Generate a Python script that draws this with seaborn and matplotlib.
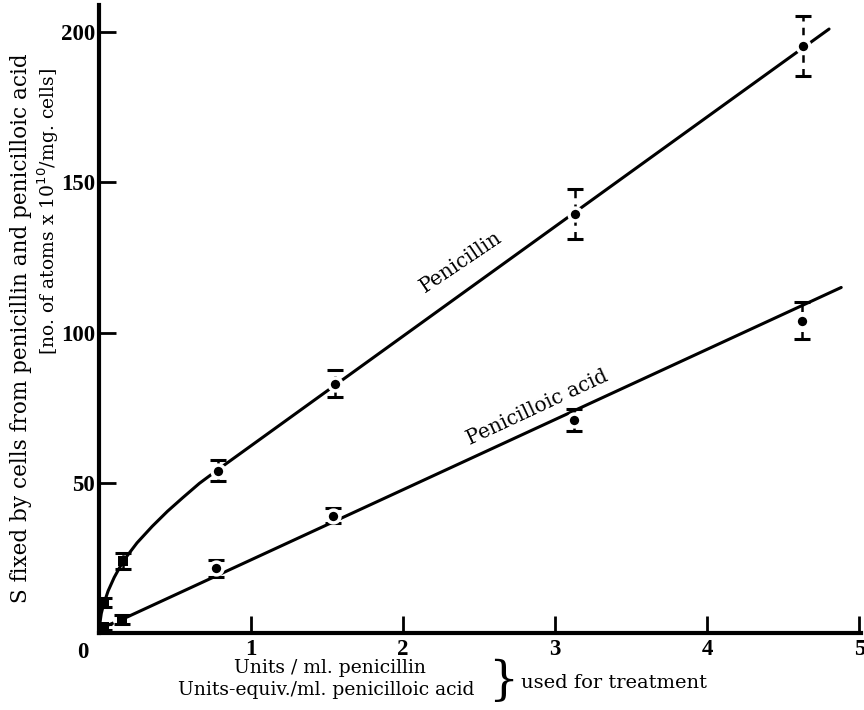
import numpy as np
import pandas as pd
import matplotlib
matplotlib.use("Agg")
import matplotlib.pyplot as plt
import seaborn as sns

# ---------- data ----------
pen_x = [0.03, 0.16, 0.78, 1.55, 3.13, 4.63]
pen_y = [10, 24, 54, 83, 139.5, 195.5]
pen_err = [1.5, 2.7, 3.5, 4.5, 8.3, 10]

acid_x = [0.03, 0.15, 0.77, 1.54, 3.12, 4.62]
acid_y = [2, 4.5, 21.5, 39, 71, 104]
acid_err = [1, 1.5, 2.7, 2.5, 3.7, 6]

# hand-drawn fitted curves
pen_curve_x = [0, 0.005, 0.015, 0.03, 0.06, 0.1, 0.16, 0.25, 0.35,
               0.45, 0.55, 0.66, 0.78, 4.8]
pen_curve_y = [0, 3, 6.5, 9.5, 14, 18.5, 24, 30, 35.5,
               40.5, 45, 49.8, 54.3, 201]
acid_dash_x = [0, 0.03, 0.15]
acid_dash_y = [0, 2, 4.5]
acid_line_x = [0.15, 4.88]
acid_line_y = [4.5, 115]

x_ticks = [1, 2, 3, 4, 5]
y_ticks = [50, 100, 150, 200]

# ---------- plot ----------
sns.set_style("ticks", rc={
    "axes.edgecolor": "black",
    "xtick.color": "black",
    "ytick.color": "black",
    "text.color": "black",
    "axes.labelcolor": "black",
})
plt.rcParams["font.family"] = ["DejaVu Serif"]

fig = plt.figure(figsize=(8.64, 7.10), dpi=100)
ax = fig.add_axes([99 / 864, 1 - 633 / 710, (861 - 99) / 864, (633 - 5) / 710])

LW = 2.2
sns.lineplot(x=pen_curve_x, y=pen_curve_y, ax=ax, color="black", lw=LW,
             sort=False, estimator=None)
sns.lineplot(x=acid_line_x, y=acid_line_y, ax=ax, color="black", lw=LW,
             sort=False, estimator=None)
sns.lineplot(x=acid_dash_x, y=acid_dash_y, ax=ax, color="black", lw=LW,
             sort=False, estimator=None, linestyle=(0, (2, 2)))

for xs, ys, es in [(pen_x, pen_y, pen_err), (acid_x, acid_y, acid_err)]:
    eb = ax.errorbar(xs, ys, yerr=es, fmt="none", ecolor="black",
                     elinewidth=1.8, capsize=6, capthick=2.2, zorder=4)
    eb[2][0].set_linestyle((0, (3, 2.5)))

pts = pd.DataFrame({
    "x": pen_x + acid_x,
    "y": pen_y + acid_y,
    "kind": (["sq"] * 2 + ["o"] * 4) * 2,
})
dots = pts[pts["kind"] == "o"]
squares = pts[pts["kind"] == "sq"]
sns.scatterplot(data=dots, x="x", y="y", ax=ax, color="black", marker="o",
                s=85, edgecolor="white", linewidth=2.5, zorder=5, legend=False)
sns.scatterplot(data=squares, x="x", y="y", ax=ax, color="black", marker="s",
                s=45, edgecolor="black", linewidth=0, zorder=5, legend=False)

ax.set_xlim(0, 5.01)
ax.set_ylim(0, 209)
ax.set_xticks(x_ticks)
ax.set_yticks(y_ticks)
ax.set_xticklabels([str(t) for t in x_ticks])
ax.set_yticklabels([str(t) for t in y_ticks])
ax.tick_params(direction="in", length=12, width=2, pad=4)
ax.tick_params(axis="y", pad=3)
for lab in ax.get_xticklabels() + ax.get_yticklabels():
    lab.set_fontfamily("Liberation Serif")
    lab.set_fontweight("bold")
    lab.set_fontsize(16.5)
ax.set_xlabel("")
ax.set_ylabel("")
sns.despine(ax=ax)
for side in ["left", "bottom"]:
    ax.spines[side].set_linewidth(3)

# origin label
fig.text(83 / 864, 1 - 652 / 710, "0", ha="center", va="center",
         fontfamily="Liberation Serif", fontweight="bold", fontsize=16.5)

# curve labels
ax.text(2.38, 123.5, "Penicillin", rotation=34, ha="center", va="center",
        fontsize=14.5, rotation_mode="anchor")
ax.text(2.88, 75, "Penicilloic acid", rotation=25, ha="center", va="center",
        fontsize=14.5, rotation_mode="anchor")

# axis labels
fig.text(21 / 864, 1 - 328 / 710,
         "S fixed by cells from penicillin and penicilloic acid",
         rotation=90, ha="center", va="center", fontsize=15.5)
fig.text(48 / 864, 1 - 212 / 710,
         "[no. of atoms x 10$^{10}$/mg. cells]",
         rotation=90, ha="center", va="center", fontsize=13.5)

fig.text(330 / 864, 1 - 668 / 710, "Units / ml. penicillin",
         ha="center", va="center", fontsize=13.5)
fig.text(326 / 864, 1 - 690 / 710, "Units-equiv./ml. penicilloic acid",
         ha="center", va="center", fontsize=13.5)
fig.text(503 / 864, 1 - 681 / 710, "}", ha="center", va="center",
         fontsize=34, fontweight="light")
fig.text(521 / 864, 1 - 683 / 710, "used for treatment",
         ha="left", va="center", fontsize=14)

fig.savefig("out.png", dpi=100)
